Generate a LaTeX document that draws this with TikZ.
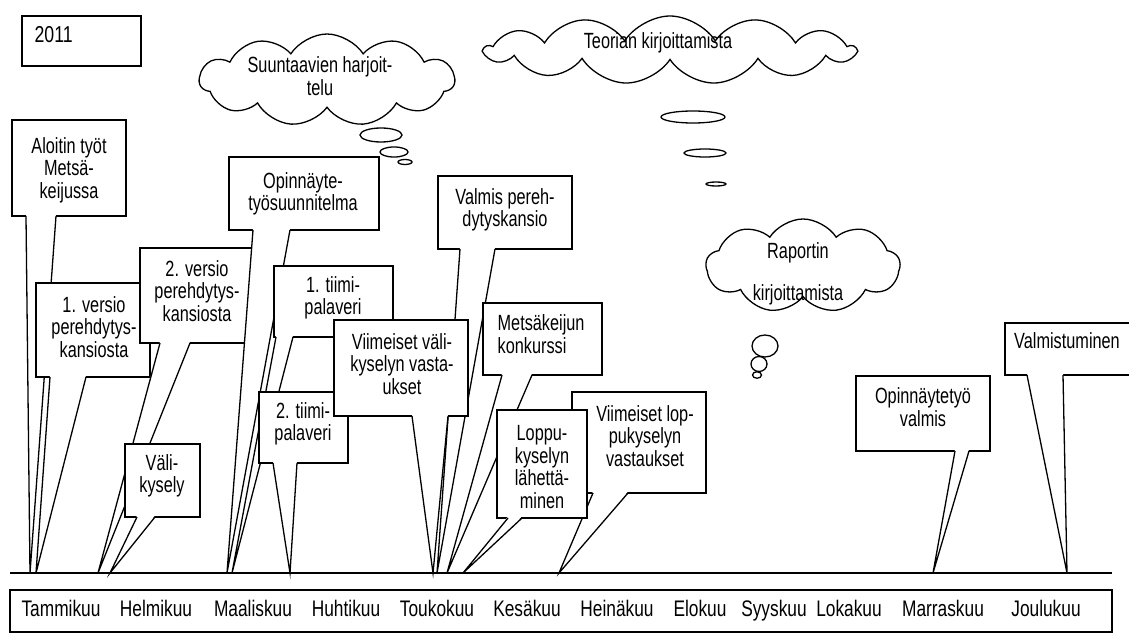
\documentclass[tikz,border=0pt]{standalone}
\usepackage{fontspec}
\setmainfont{Liberation Sans}[FakeStretch=0.74]
\newfontfamily\monthfont{Liberation Sans}[FakeStretch=0.77]
\usetikzlibrary{shapes.geometric,shapes.symbols,fit}
\tikzset{
  cbox/.style={draw, fill=white, inner sep=0pt},
  ctext/.style={align=center, inner sep=0pt, font=\fontsize{22}{22.5}\selectfont},
  mtext/.style={inner sep=0pt, anchor=base, font=\monthfont\fontsize{22.5}{24}\selectfont},
  cloudbox/.style={cloud, draw, fill=white, cloud ignores aspect, inner sep=0pt},
  bubble/.style={ellipse, draw, fill=white, inner sep=0pt},
}
% #1 text options, #2 name, #3 nw, #4 se, #5 base left, #6 base right, #7 tip x, #8 text pos, #9 text
\newcommand\callout[9][]{%
  \coordinate (#2-nw) at (#3);
  \coordinate (#2-se) at (#4);
  \node[cbox, fit=(#2-nw)(#2-se)] (#2) {};
  \coordinate (#2-tip) at (#7,573);
  \coordinate (#2-a) at (#5);
  \coordinate (#2-b) at (#6);
  \fill[white] ([yshift=1.5pt]#2-a) -- (#2-tip) -- ([yshift=1.5pt]#2-b) -- cycle;
  \draw (#2-a) -- (#2-tip) -- (#2-b);
  \node[ctext,#1] (#2-txt) at (#8) {#9};
}
\begin{document}
\begin{tikzpicture}[x=1pt,y=-1pt,line width=1.3pt]
\useasboundingbox (0,0) rectangle (1129,639);
\fill[white] (0,0) rectangle (1129,639);

% year
\node[draw, minimum width=119pt, minimum height=50pt, inner sep=0pt] (year) at (81.5,41) {};
\node[mtext, anchor=base west, font=\monthfont\fontsize{23}{24}\selectfont] (yeartxt) at (34,43) {2011};

% clouds
\node[cloudbox, cloud puffs=11, cloud puff arc=115, minimum width=255pt, minimum height=92pt] (c1) at (327,80) {};
\node[ctext] (c1txt) at (320,76) {Suuntaavien harjoit-\\telu};
\node[bubble, minimum width=42pt, minimum height=14pt] (c1b1) at (381,135) {};
\node[bubble, minimum width=28pt, minimum height=10pt] (c1b2) at (394,152) {};
\node[bubble, minimum width=14pt, minimum height=5pt] (c1b3) at (405,162) {};

\node[cloudbox, cloud puffs=13, cloud puff arc=115, minimum width=370pt, minimum height=68pt] (c2) at (670,50) {};
\node[ctext] (c2txt) at (658,43) {Teorian kirjoittamista};
\node[bubble, minimum width=64pt, minimum height=12pt] (c2b1) at (693,117) {};
\node[bubble, minimum width=42pt, minimum height=8pt] (c2b2) at (705,153) {};
\node[bubble, minimum width=20pt, minimum height=4pt] (c2b3) at (716,184) {};

\node[cloudbox, cloud puffs=9, cloud puff arc=115, minimum width=194pt, minimum height=94pt] (c3) at (803,266) {};
\node[ctext] (c3txt1) at (798,253) {Raportin};
\node[ctext] (c3txt2) at (798,295) {kirjoittamista};
\node[bubble, minimum width=26pt, minimum height=22pt] (c3b1) at (765,346) {};
\node[bubble, minimum width=16pt, minimum height=15pt] (c3b2) at (759,364) {};
\node[bubble, minimum width=9pt, minimum height=6.5pt] (c3b3) at (757,375) {};

% timeline
\coordinate (tl-a) at (10,573);
\coordinate (tl-b) at (1112,573);
\draw (tl-a) -- (tl-b);

% callouts
\callout{aloitin}{12,120}{126,216}{26,216}{56,216}{30}{69,170}{Aloitin työt\\Metsä-\\keijussa}
\callout{versio1}{36,283}{150,377}{50,377}{86,377}{36}{94,327}{1. versio\\perehdytys-\\kansiosta}
\callout{versio2}{140,248}{252,343}{160,343}{190,343}{98}{197,291}{2. versio\\perehdytys-\\kansiosta}
\callout{vali}{125,444}{200,517}{137,517}{155,517}{110}{162,476}{Väli-\\kysely}
\callout{suunn}{229,157}{379,230}{253,230}{290,230}{227}{303,194}{Opinnäyte-\\työsuunnitelma}
\callout{tiimi1}{274,266}{393,337}{276,337}{293,337}{232}{333,298}{1. tiimi-\\palaveri}
\callout{tiimi2}{259,392}{348,463}{273,463}{297,463}{290}{303,424}{2. tiimi-\\palaveri}
\callout{valmis}{438,176}{572,249}{460,249}{495,249}{437}{505,210}{Valmis pereh-\\dytyskansio}
\callout{vali2}{334,320}{468,416}{412,416}{448,416}{433}{402,364}{Viimeiset väli-\\kyselyn vasta-\\ukset}
\callout[align=left, anchor=west]{konk}{483,303}{602,375}{502,375}{532,375}{447}{497,334}{Metsäkeijun\\konkurssi}
\callout{lop}{572,392}{706,493}{593,493}{628,493}{559}{645,436}{Viimeiset lop-\\pukyselyn\\vastaukset}
\callout{loppu}{497,410}{587,518}{508,518}{522,518}{463}{542,467}{Loppu-\\kyselyn\\lähettä-\\minen}
\callout{otvalmis}{856,376}{990,451}{955,451}{969,451}{933}{923,407}{Opinnäytetyö\\valmis}
\callout{valmistuminen}{1005,323}{1145,375}{1027,375}{1063,375}{1067}{1067,341}{Valmistuminen}

% months
\node[draw, minimum width=1102pt, minimum height=42pt, inner sep=0pt] (months) at (561,611) {};
\foreach \m/\x [count=\i] in {Tammikuu/61, Helmikuu/156, Maaliskuu/253, Huhtikuu/346, Toukokuu/437, Kesäkuu/527, Heinäkuu/617, Elokuu/700, Syyskuu/774, Lokakuu/849, Marraskuu/943, Joulukuu/1046}
  \node[mtext] (m\i) at (\x,616) {\m};
\end{tikzpicture}
\end{document}
